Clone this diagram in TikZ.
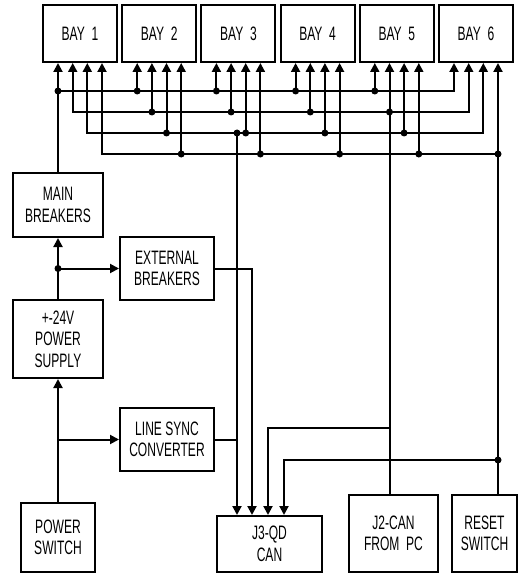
\documentclass[tikz,border=0pt]{standalone}
\usepackage{fontspec}
\setmainfont[FakeStretch=0.62]{Liberation Sans}
\usepackage{tikz}
\usetikzlibrary{arrows.meta, calc, positioning}
\tikzstyle{wire} = [line width=2bp]
\tikzstyle{arrow} = [wire,-{Triangle[width=9bp,length=9bp]}]
\tikzstyle{arrows2} = [wire,{Triangle[width=9bp,length=9bp]}-{Triangle[width=9bp,length=9bp]}]

\begin{document}
\begin{tikzpicture}[
    x=1bp, y=-1bp,
    box/.style={
        rectangle,
        draw=black,
        line width=2bp,
        inner sep=0pt,
        align=center,
        font=\fontsize{19.5}{21.5}\selectfont
    }
]
    \useasboundingbox (0,0) rectangle (521,574);

    % bays along the top
    \foreach \i in {1,...,6}
        \node[box, minimum width=74bp, minimum height=57bp]
            (bay\i) at ({80+79.2*(\i-1)},33.5) {BAY~~\i};

    % left column
    \node[box, minimum width=89bp, minimum height=64bp] (main) at (58,205)
        {MAIN\\BREAKERS};
    \node[box, minimum width=94bp, minimum height=63bp] (ext) at (167,268.5)
        {EXTERNAL\\BREAKERS};
    \node[box, minimum width=89bp, minimum height=78bp] (psu) at (58,339)
        {+-24V\\POWER\\SUPPLY};
    \node[box, minimum width=94bp, minimum height=63bp] (sync) at (167,439.5)
        {LINE~SYNC\\CONVERTER};
    \node[box, minimum width=74bp, minimum height=69bp] (pwr) at (58,537.5)
        {POWER\\SWITCH};

    % bottom row
    \node[box, minimum width=105bp, minimum height=56bp] (j3) at (269.5,544)
        {J3-QD\\CAN};
    \node[box, minimum width=89bp, minimum height=77bp] (j2) at (393.5,533.5)
        {J2-CAN\\FROM~~PC};
    \node[box, minimum width=65bp, minimum height=77bp] (reset) at (484.5,533.5)
        {RESET\\SWITCH};

    % ports under each bay and their bus points
    \foreach \i in {1,...,6}
        \foreach \j/\o/\y in {1/-22/90,2/-7.3/111,3/7.3/132,4/22/153} {
            \coordinate (p\i\j) at ($(bay\i.south)+(\o,0)$);
            \coordinate (b\i\j) at ($(p\i\j)+(0,\y-62)$);
        }
    \foreach \k/\o in {1/21,2/36,3/52,4/68}
        \coordinate (j3in\k) at ($(j3.north west)+(\o,0)$);

    % buses
    \draw[arrow] (b11) -- (b61) -- (p61);
    \foreach \j in {2,3}
        \draw[arrows2] (p1\j) -- (b1\j) -- (b6\j) -- (p6\j);
    \draw[arrow] (b64) -- (b14) -- (p14);
    \foreach \i in {2,...,5}
        \foreach \j in {1,...,4}
            \draw[arrow] (b\i\j) -- (p\i\j);

    % power path
    \coordinate (jm) at (psu.north |- ext.west);
    \draw[arrow] (main.north) -- (p11);
    \draw[arrow] (psu.north) -- (main.south);
    \draw[arrow] (jm) -- (ext.west);
    \draw[arrow] (pwr.north) -- (psu.south);
    \draw[arrow] (pwr.north |- sync.west) -- (sync.west);

    % into J3-QD CAN
    \coordinate (tap) at (j3in1 |- b33);
    \coordinate (k2) at ($(j2.north -| p52)+(0,-66)$);
    \coordinate (r6) at ($(reset.north -| p64)+(0,-34)$);
    \draw[arrow] (tap) -- (j3in1);
    \draw[wire] (sync.east) -- (sync.east -| j3in1);
    \draw[arrow] (ext.east) -| (j3in2);
    \draw[wire] (j2.north -| p52) -- (b52);
    \draw[arrow] (k2) -| (j3in3);
    \draw[arrow] (reset.north -| p64) -- (p64);
    \draw[arrow] (r6) -| (j3in4);

    % junction dots
    \foreach \i in {1,...,5} \fill (b\i1) circle (3.5bp);
    \foreach \i in {2,...,5} \fill (b\i2) circle (3.5bp);
    \foreach \i in {2,...,5} \fill (b\i3) circle (3.5bp);
    \foreach \i in {2,...,6} \fill (b\i4) circle (3.5bp);
    \fill (tap) circle (3.5bp);
    \fill (jm) circle (3.5bp);
    \fill (r6) circle (3.5bp);
\end{tikzpicture}
\end{document}
